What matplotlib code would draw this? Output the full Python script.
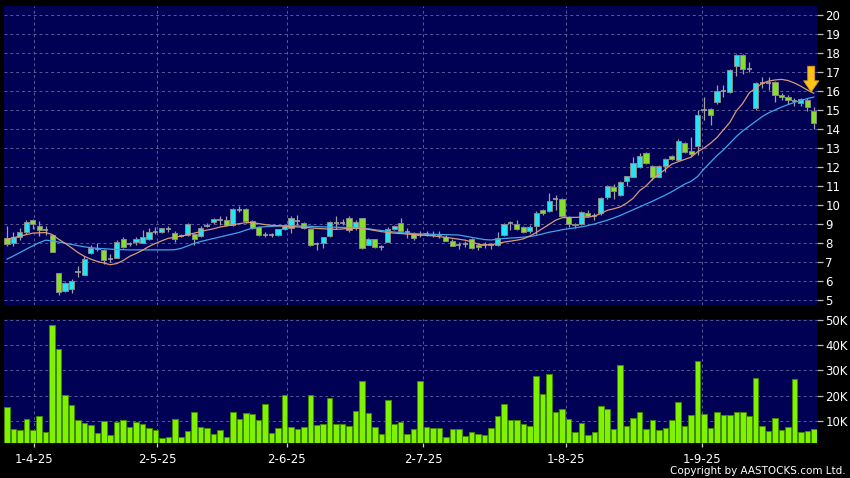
import matplotlib
matplotlib.use('Agg')
import matplotlib.pyplot as plt
import numpy as np

# ---------------- data ----------------
opens = [8.28, 7.99, 8.34, 8.60, 9.20, 8.92, 8.66, 8.43, 6.41, 5.50,
         5.57, 6.50, 6.32, 7.46, 7.75, 7.61, 7.17, 7.19, 8.19, 7.93,
         8.05, 8.02, 8.19, 8.56, 8.60, 8.75, 8.54, 8.38, 8.42, 8.47,
         8.38, 8.91, 9.10, 9.22, 9.23, 8.93, 9.76, 9.77, 9.16, 8.86,
         8.42, 8.42, 8.42, 8.74, 8.77, 9.16, 9.07, 8.72, 7.93, 8.02,
         8.35, 9.07, 9.08, 9.30, 8.77, 9.30, 7.90, 8.19, 7.77, 8.08,
         8.72, 9.03, 8.56, 8.47, 8.42, 8.45, 8.42, 8.40, 8.30, 8.12,
         7.90, 7.93, 8.21, 7.90, 7.90, 7.90, 7.90, 8.42, 9.04, 8.98,
         8.86, 8.65, 8.91, 9.74, 9.70, 10.30, 10.30, 9.35, 8.98, 8.98,
         9.60, 9.42, 9.56, 10.40, 10.96, 10.55, 11.28, 11.50, 12.00, 12.75,
         12.07, 11.50, 12.05, 12.58, 12.37, 13.28, 12.84, 13.10, 15.00, 15.03,
         15.44, 16.00, 15.96, 17.32, 17.90, 17.14, 15.08, 16.40, 16.44, 16.49,
         15.79, 15.67, 15.50, 15.39, 15.53, 14.95]
closes = [7.93, 8.34, 8.57, 9.13, 8.99, 8.66, 8.66, 7.54, 5.40, 5.88,
          5.99, 6.50, 7.14, 7.75, 7.68, 7.10, 7.17, 8.07, 7.81, 7.93,
          8.19, 8.30, 8.56, 8.56, 8.77, 8.75, 8.19, 8.38, 8.98, 8.21,
          8.81, 8.91, 9.25, 9.22, 8.93, 9.77, 9.76, 9.14, 8.77, 8.42,
          8.42, 8.42, 8.72, 8.88, 9.30, 9.16, 8.77, 7.90, 7.93, 8.30,
          9.12, 9.07, 9.08, 8.68, 9.12, 7.72, 8.19, 7.79, 7.77, 8.72,
          8.90, 8.62, 8.56, 8.25, 8.42, 8.45, 8.42, 8.40, 8.12, 7.86,
          7.90, 7.93, 7.72, 7.78, 7.90, 7.90, 8.28, 8.98, 9.04, 8.74,
          8.60, 8.86, 9.60, 9.56, 10.23, 10.30, 9.42, 9.00, 8.93, 9.65,
          9.42, 9.42, 10.39, 11.00, 10.75, 11.23, 11.53, 12.20, 12.60, 12.20,
          11.50, 12.07, 12.40, 12.40, 13.37, 12.80, 12.67, 14.74, 15.00, 14.74,
          16.00, 16.00, 17.10, 17.90, 17.14, 17.14, 16.40, 16.40, 16.44, 15.79,
          15.67, 15.53, 15.47, 15.56, 15.18, 14.33]
highs = [8.90, 8.57, 8.78, 9.22, 9.25, 9.18, 8.87, 8.50, 6.41, 5.97,
         6.10, 6.80, 7.30, 7.90, 7.98, 7.70, 7.42, 8.15, 8.30, 8.07,
         8.30, 8.68, 8.77, 8.82, 8.80, 8.89, 8.65, 8.50, 9.07, 8.55,
         8.92, 9.03, 9.33, 9.43, 9.43, 9.83, 9.95, 9.82, 9.20, 8.90,
         8.60, 8.55, 8.75, 8.92, 9.42, 9.45, 9.10, 8.75, 8.08, 8.30,
         9.14, 9.42, 9.25, 9.40, 9.20, 9.32, 8.25, 8.22, 7.90, 8.85,
         8.95, 9.33, 8.80, 8.58, 8.62, 8.65, 8.65, 8.62, 8.40, 8.20,
         8.05, 8.10, 8.28, 8.02, 8.05, 8.00, 8.60, 9.05, 9.18, 9.20,
         8.90, 8.95, 9.70, 9.80, 10.65, 10.55, 10.35, 9.40, 9.05, 9.70,
         9.72, 9.60, 10.42, 11.05, 11.10, 11.28, 11.55, 12.55, 12.75, 12.80,
         12.12, 12.10, 12.45, 12.65, 13.45, 13.30, 13.60, 15.00, 15.66, 15.10,
         16.30, 16.30, 17.15, 17.95, 17.95, 17.50, 16.45, 16.75, 16.75, 16.55,
         15.90, 15.80, 15.65, 15.65, 15.65, 15.18]
lows = [7.86, 7.86, 8.17, 8.50, 8.75, 8.35, 8.43, 7.54, 5.26, 5.45,
        5.36, 6.22, 6.32, 7.40, 7.60, 6.90, 7.00, 7.19, 7.75, 7.85,
        7.90, 8.00, 8.15, 8.46, 8.55, 8.56, 8.05, 8.30, 8.38, 7.90,
        8.33, 8.82, 9.00, 8.95, 8.90, 8.88, 9.62, 9.08, 8.72, 8.38,
        8.30, 8.30, 8.38, 8.70, 8.55, 8.95, 8.72, 7.85, 7.65, 7.75,
        8.33, 8.75, 8.95, 8.60, 8.70, 7.70, 7.88, 7.72, 7.62, 8.05,
        8.70, 8.60, 8.25, 8.18, 8.30, 8.35, 8.30, 8.25, 8.10, 7.85,
        7.70, 7.80, 7.70, 7.65, 7.75, 7.70, 7.85, 8.38, 8.70, 8.70,
        8.55, 8.55, 8.45, 9.50, 9.62, 9.75, 9.35, 8.85, 8.80, 8.95,
        9.35, 9.20, 9.50, 10.30, 10.30, 10.50, 11.00, 11.45, 11.95, 12.15,
        11.30, 11.45, 11.75, 12.35, 12.30, 12.75, 12.60, 12.63, 14.47, 14.20,
        15.30, 15.70, 15.90, 16.80, 16.90, 17.00, 15.00, 16.15, 16.05, 15.40,
        15.55, 15.30, 15.20, 15.20, 14.95, 13.98]
volumes_k = [15.3, 6.7, 6.4, 10.8, 6.2, 12.0, 5.6, 48.0, 38.5, 20.3,
             16.1, 10.4, 9.1, 8.4, 5.0, 10.0, 4.3, 9.5, 10.4, 7.4,
             9.5, 8.7, 7.2, 6.2, 3.3, 3.4, 10.7, 3.7, 6.0, 13.4,
             7.4, 7.2, 4.9, 6.3, 3.7, 13.4, 10.8, 13.2, 12.8, 10.3,
             16.6, 5.1, 7.0, 20.4, 7.6, 6.8, 7.5, 20.4, 8.3, 8.8,
             19.1, 8.8, 8.9, 7.8, 14.0, 25.6, 12.9, 7.4, 4.9, 18.2,
             8.9, 9.6, 4.7, 6.8, 25.8, 7.5, 7.1, 7.2, 3.7, 6.8,
             6.8, 3.9, 5.5, 4.7, 4.3, 7.1, 11.7, 16.5, 10.3, 10.4,
             8.8, 8.0, 27.7, 20.7, 28.6, 13.3, 14.8, 10.8, 5.6, 9.1,
             4.5, 5.6, 15.9, 14.6, 6.8, 32.3, 8.0, 11.1, 13.4, 6.8,
             10.3, 6.3, 7.1, 10.4, 17.3, 7.9, 12.4, 33.6, 12.6, 7.1,
             13.6, 12.1, 12.4, 13.4, 13.4, 11.8, 26.9, 8.0, 5.9, 11.2,
             6.3, 7.4, 26.6, 5.6, 6.0, 6.7]
ma10 = [8.20, 8.28, 8.36, 8.44, 8.52, 8.54, 8.55, 8.45, 8.20, 7.99,
        7.75, 7.50, 7.30, 7.15, 7.03, 6.95, 6.86, 6.92, 7.08, 7.30,
        7.45, 7.62, 7.82, 7.98, 8.12, 8.25, 8.30, 8.36, 8.44, 8.52,
        8.60, 8.68, 8.75, 8.84, 8.90, 8.96, 9.02, 9.07, 9.08, 9.02,
        8.97, 8.93, 8.91, 8.89, 8.87, 8.85, 8.83, 8.80, 8.77, 8.75,
        8.73, 8.72, 8.74, 8.77, 8.78, 8.77, 8.72, 8.66, 8.60, 8.56,
        8.52, 8.50, 8.47, 8.45, 8.42, 8.40, 8.38, 8.33, 8.30, 8.25,
        8.20, 8.15, 8.06, 7.94, 7.90, 7.92, 7.96, 8.05, 8.10, 8.15,
        8.22, 8.37, 8.55, 8.77, 8.98, 9.20, 9.33, 9.35, 9.35, 9.36,
        9.36, 9.42, 9.55, 9.72, 9.80, 9.90, 10.10, 10.35, 10.75, 11.00,
        11.35, 11.62, 11.88, 12.15, 12.28, 12.40, 12.52, 12.80, 13.00, 13.25,
        13.55, 13.95, 14.35, 14.95, 15.35, 15.90, 16.15, 16.40, 16.52, 16.58,
        16.61, 16.55, 16.42, 16.25, 16.05, 15.88]
ma20 = [7.15, 7.32, 7.50, 7.68, 7.85, 8.02, 8.15, 8.12, 8.05, 7.99,
        7.93, 7.86, 7.80, 7.76, 7.72, 7.70, 7.68, 7.66, 7.65, 7.64,
        7.64, 7.64, 7.64, 7.64, 7.64, 7.64, 7.65, 7.72, 7.85, 7.98,
        8.08, 8.16, 8.24, 8.32, 8.40, 8.48, 8.56, 8.68, 8.78, 8.83,
        8.86, 8.88, 8.90, 8.91, 8.91, 8.90, 8.89, 8.88, 8.86, 8.85,
        8.84, 8.83, 8.82, 8.81, 8.80, 8.78, 8.75, 8.70, 8.66, 8.62,
        8.58, 8.55, 8.52, 8.50, 8.48, 8.47, 8.46, 8.45, 8.44, 8.43,
        8.42, 8.36, 8.30, 8.24, 8.18, 8.16, 8.20, 8.24, 8.26, 8.28,
        8.31, 8.34, 8.40, 8.48, 8.57, 8.63, 8.70, 8.75, 8.80, 8.85,
        8.92, 9.00, 9.10, 9.20, 9.32, 9.45, 9.60, 9.75, 9.90, 10.05,
        10.20, 10.36, 10.52, 10.70, 10.90, 11.10, 11.25, 11.50, 11.90, 12.25,
        12.60, 12.90, 13.25, 13.60, 13.90, 14.15, 14.40, 14.65, 14.85, 15.00,
        15.15, 15.28, 15.40, 15.50, 15.60, 15.68]
date_labels = ['1-4-25', '2-5-25', '2-6-25', '2-7-25', '1-8-25', '1-9-25']
date_tick_pos = [4.2, 23.3, 43.35, 64.5, 86.65, 107.7]
price_ticks = list(range(5, 21))
vol_ticks = [10, 20, 30, 40, 50]
vol_tick_labels = ['10K', '20K', '30K', '40K', '50K']
arrow_from, arrow_to = 17.3, 15.95

# ---------------- styles ----------------
BG = 'black'
PANEL = '#000055'
GRID = '#5a5a96'
UP = '#22e4f2'
DOWN = '#86e02a'
EDGE = '#8a8a8a'
WICK = '#a0a0a0'
VOL = '#80f200'
VOLEDGE = '#3f8a00'

W, H = 850, 478
fig = plt.figure(figsize=(W / 100, H / 100), dpi=100, facecolor=BG)


def rect(l, t, r, b):
    return [l / W, 1 - b / H, (r - l) / W, (b - t) / H]


ax = fig.add_axes(rect(4, 6, 817, 305))
axv = fig.add_axes(rect(4, 319, 817, 443), sharex=ax)

n = len(closes)
x = np.arange(n)
o = np.array(opens); c = np.array(closes); h = np.array(highs); l = np.array(lows)

for a in (ax, axv):
    a.set_facecolor(PANEL)
    for s in a.spines.values():
        s.set_visible(False)
    a.grid(True, color=GRID, linestyle=(0, (3, 3)), linewidth=0.7)
    a.set_axisbelow(True)
    a.yaxis.tick_right()
    a.tick_params(axis='y', which='both', length=4, width=0.9, color='#bdbdbd',
                  labelcolor='white', labelsize=8.5, pad=2)

# candles
ax.vlines(x, l, h, color=WICK, linewidth=0.9, zorder=2)
up = c > o + 0.03
dn = c < o - 0.03
dj = ~(up | dn)
bw = 0.8
ax.bar(x[up], (c - o)[up], bottom=o[up], width=bw, color=UP,
       edgecolor=EDGE, linewidth=0.7, zorder=3)
ax.bar(x[dn], (o - c)[dn], bottom=c[dn], width=bw, color=DOWN,
       edgecolor=EDGE, linewidth=0.7, zorder=3)
ax.hlines(c[dj], x[dj] - bw / 2, x[dj] + bw / 2, color=WICK, linewidth=1.2, zorder=3)

# moving averages
ax.plot(x, ma20, color='#3ea6e8', linewidth=0.9, zorder=4)
ax.plot(x, ma10, color='#d99a78', linewidth=0.9, zorder=4)

# arrow
ax.annotate('', xy=(n - 1.4, arrow_to), xytext=(n - 1.4, arrow_from),
            arrowprops=dict(facecolor='#ffc21a', edgecolor='#d99a00', linewidth=0.6,
                            width=5, headwidth=11, headlength=8), zorder=5)

ax.set_ylim(4.74, 20.47)
ax.set_yticks(price_ticks)
ax.set_yticklabels([str(t) for t in price_ticks])
ax.set_xlim(-0.46, n - 1 + 0.5)
ax.set_xticks(date_tick_pos)
ax.tick_params(axis='x', which='both', length=0, labelbottom=False)

# volume
axv.bar(x, volumes_k, width=0.86, color=VOL, edgecolor=VOLEDGE, linewidth=0.7, zorder=2)
axv.set_ylim(1.17, 50.4)
axv.set_yticks(vol_ticks)
axv.set_yticklabels(vol_tick_labels)
axv.set_xticks(date_tick_pos)
axv.set_xticklabels(date_labels)
axv.tick_params(axis='x', length=3, width=0.9, color='#d0d0d0', labelcolor='white',
                labelsize=8.5, pad=4)

fig.text(846 / W, 1 - 471 / H, 'Copyright by AASTOCKS.com Ltd.', ha='right', va='center',
         color='white', fontsize=7.5)

fig.savefig('out.png', dpi=100, facecolor=BG)
